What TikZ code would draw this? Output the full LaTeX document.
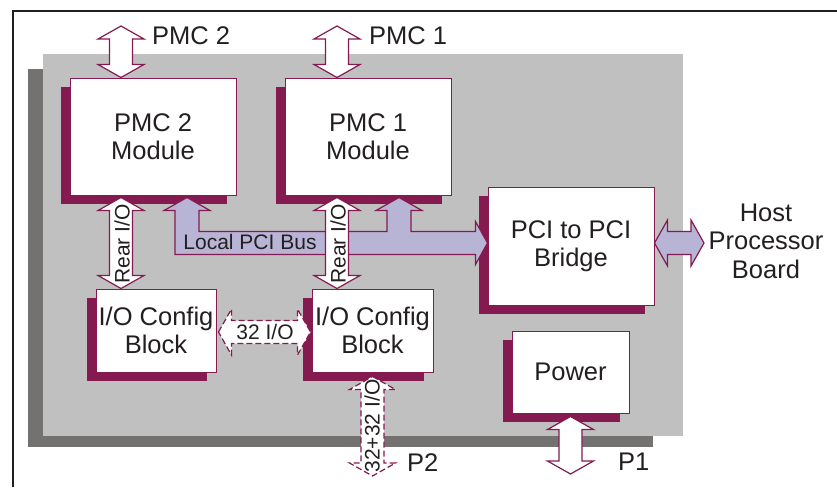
\documentclass[tikz,border=0pt]{standalone}
\usepackage{fontspec}
\setmainfont{Liberation Sans}
\usetikzlibrary{calc,shadows}
\definecolor{pmcplum}{RGB}{132,26,80}
\definecolor{boardgray}{RGB}{192,192,192}
\definecolor{edgegray}{RGB}{115,114,112}
\definecolor{buslilac}{RGB}{184,180,214}
\definecolor{inkblack}{RGB}{35,31,32}

% fat double arrows between two points (vertical / horizontal)
\newcommand{\vbiarrow}[3][]{%
  \draw[#1] let \p1=(#2),\p2=(#3) in
    (\x1,\y1) -- (\x1+23pt,\y1-13pt) -- (\x1+11.5pt,\y1-13pt) -- (\x1+11.5pt,\y2+13pt)
    -- (\x1+23pt,\y2+13pt) -- (\x1,\y2) -- (\x1-23pt,\y2+13pt) -- (\x1-11.5pt,\y2+13pt)
    -- (\x1-11.5pt,\y1-13pt) -- (\x1-23pt,\y1-13pt) -- cycle;}
\newcommand{\hbiarrow}[3][]{%
  \draw[#1] let \p1=(#2),\p2=(#3) in
    (\x1,\y1) -- (\x1+13pt,\y1+23pt) -- (\x1+13pt,\y1+11.5pt) -- (\x2-13pt,\y1+11.5pt)
    -- (\x2-13pt,\y1+23pt) -- (\x2,\y1) -- (\x2-13pt,\y1-23pt) -- (\x2-13pt,\y1-11.5pt)
    -- (\x1+13pt,\y1-11.5pt) -- (\x1+13pt,\y1-23pt) -- cycle;}

\begin{document}
\begin{tikzpicture}[x=1pt,y=-1pt,
  module/.style={draw=pmcplum,line width=1pt,fill=white,text=inkblack,align=center,
                 inner sep=1pt,font=\fontsize{25.5}{28}\selectfont,
                 drop shadow={shadow xshift=-9pt,shadow yshift=-9pt,fill=pmcplum,opacity=1}},
  lbl/.style={text=inkblack,inner sep=0pt,align=center,font=\fontsize{25.5}{28.5}\selectfont},
  smalllbl/.style={text=inkblack,inner sep=0pt,font=\fontsize{21}{24}\selectfont},
  openarrow/.style={draw=pmcplum,line width=1.2pt,fill=white},
  busarrow/.style={draw=pmcplum,line width=1.2pt,fill=buslilac},
  dasharrow/.style={openarrow,dash pattern=on 6pt off 3pt}
]
\useasboundingbox (0,0) rectangle (837,487);
% board
\fill[edgegray] (28,69) rectangle (653,447);
\fill[boardgray] (43,54) rectangle (683,436);
\draw[inkblack,line width=2pt] (13,487) -- (13,11) -- (837,11);

\node[module,minimum width=166pt,minimum height=117pt] (pmctwo) at (153,136.5) {PMC 2\\Module};
\node[module,minimum width=166pt,minimum height=117pt] (pmcone) at (368,136.5) {PMC 1\\Module};
\node[module,minimum width=166pt,minimum height=118pt] (bridge) at (571,246) {PCI to PCI\\Bridge};
\node[module,minimum width=117pt,minimum height=82pt] (power) at (570.5,372) {Power};
\node[module,minimum width=120pt,minimum height=83pt] (iocfga) at (156,330.5) {I/O Config\\Block};
\node[module,minimum width=121pt,minimum height=83pt] (iocfgb) at (372.5,330.5) {I/O Config\\Block};

\coordinate (pmctwoend) at (121,26);
\coordinate (pmconeend) at (337,26);
\coordinate (hostend) at (704,243);
\coordinate (ptwoend) at (372,476);
\coordinate (poneend) at (570,474);

% local PCI bus
\draw[busarrow] let \p1=([xshift=34pt]pmctwo.south),\p2=([xshift=31pt]pmcone.south),
                    \p3=([yshift=3pt]bridge.west) in
  (\x1-12pt,\y3-11.5pt) -- (\x1-12pt,\y1-15pt) -- (\x1-23pt,\y1-15pt) -- (\x1,\y1-2pt)
  -- (\x1+23pt,\y1-15pt) -- (\x1+12pt,\y1-15pt) -- (\x1+12pt,\y3+11.5pt)
  -- (\x2-12pt,\y3+11.5pt) -- (\x2-12pt,\y1-15pt) -- (\x2-23pt,\y1-15pt) -- (\x2,\y1-2pt)
  -- (\x2+23pt,\y1-15pt) -- (\x2+12pt,\y1-15pt) -- (\x2+12pt,\y3+11.5pt)
  -- (\x3-12pt,\y3+11.5pt) -- (\x3-12pt,\y3+21.5pt) -- (\x3,\y3)
  -- (\x3-12pt,\y3-21.5pt) -- (\x3-12pt,\y3-11.5pt) -- cycle;
\hbiarrow[busarrow]{[yshift=3pt]bridge.east}{hostend}

\vbiarrow[openarrow]{pmctwoend}{[xshift=-32pt]pmctwo.north}
\vbiarrow[openarrow]{pmconeend}{[xshift=-31pt]pmcone.north}
\vbiarrow[openarrow]{[xshift=-32pt,yshift=-2pt]pmctwo.south}{iocfga.north}
\vbiarrow[openarrow]{[xshift=-31pt,yshift=-2pt]pmcone.south}{iocfgb.north}
\vbiarrow[openarrow]{[yshift=-3pt]power.south}{poneend}
\vbiarrow[dasharrow]{[yshift=-4pt]iocfgb.south}{ptwoend}
\hbiarrow[dasharrow]{[xshift=2pt,yshift=-1.5pt]iocfga.east}{[xshift=-1pt]iocfgb.west}

% labels
\node[lbl,anchor=west] (pmctwolbl) at (152,36) {PMC 2};
\node[lbl,anchor=west] (pmconelbl) at (369,36) {PMC 1};
\node[lbl] (hostlbl) at (766,241) {Host\\Processor\\Board};
\node[lbl,anchor=west] (ptwolbl) at (407,463) {P2};
\node[lbl,anchor=west] (ponelbl) at (618,462) {P1};
\node[smalllbl] (buslbl) at (250,242) {Local PCI Bus};
\node[smalllbl,rotate=90] (reartwolbl) at (122,244) {Rear I/O};
\node[smalllbl,rotate=90] (rearonelbl) at (338,244) {Rear I/O};
\node[smalllbl] (linklbl) at (265,332) {32 I/O};
\node[smalllbl,rotate=90] (ptwoiolbl) at (372,426) {32+32 I/O};
\end{tikzpicture}
\end{document}
